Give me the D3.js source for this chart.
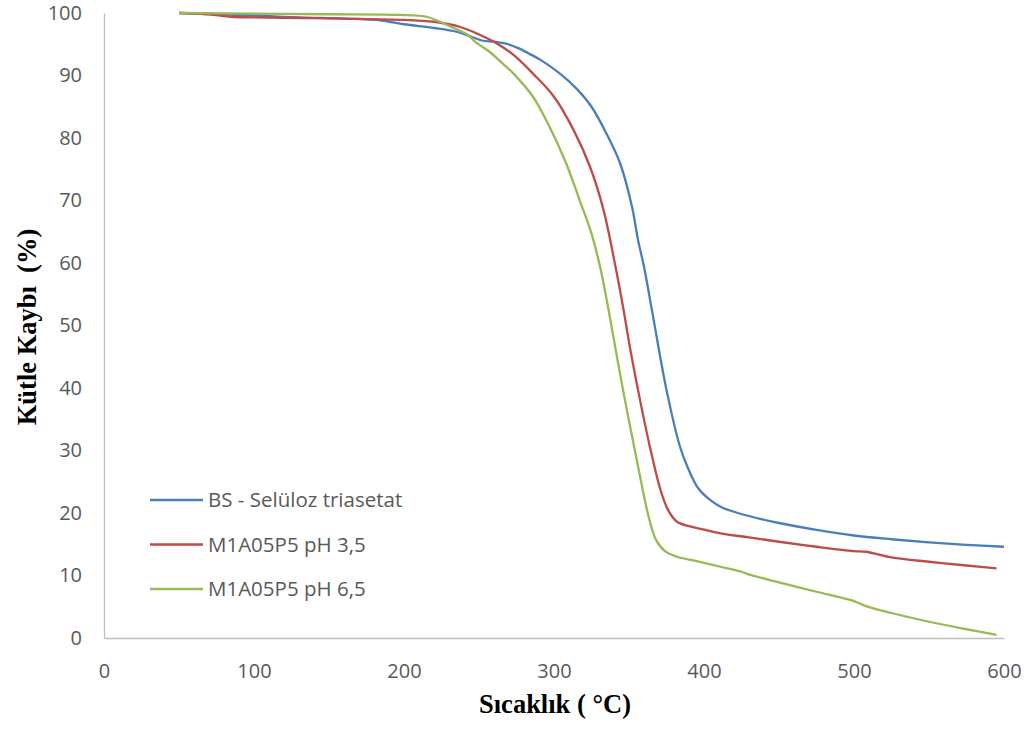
<!DOCTYPE html>
<html>
<head>
<meta charset="utf-8">
<script src="https://cdn.jsdelivr.net/npm/d3@7"></script>
<style>
  body { margin: 0; background: #fff; }
  .tick text { font-family: "Open Sans", "Noto Sans", sans-serif; font-size: 20px; fill: #595959; }
</style>
</head>
<body>
<div id="chart"></div>
<script>
// series names + colours
const seriesNames = ["BS - Selüloz triasetat", "M1A05P5 pH 3,5", "M1A05P5 pH 6,5"]
const seriesColors = ["#4a7ebb", "#be4b48", "#98b954"]

// temperature (°C) / mass (%) pairs
const bsTemp = [50, 75, 100, 130, 160, 185, 200, 220, 235, 245, 252, 260, 268, 277, 285, 291, 304, 315, 325, 335, 344, 352, 356, 360, 366, 375, 384, 390, 396, 403, 411, 420, 435, 450, 475, 500, 525, 550, 575, 600]
const bsMass = [100, 99.8, 99.6, 99.3, 99.1, 98.8, 98.2, 97.6, 97.0, 96.2, 95.6, 95.4, 95.1, 94.3, 93.3, 92.5, 90.3, 87.9, 85.0, 80.7, 76, 69, 63.7, 59.4, 51.5, 39.7, 30.6, 26.8, 24.0, 22.3, 21, 20.2, 19.2, 18.4, 17.3, 16.4, 15.8, 15.3, 14.9, 14.6]

const ph35Temp = [50, 70, 85, 100, 130, 160, 200, 220, 230, 237, 246, 255, 260, 273, 286, 300, 313, 324, 333, 341, 346, 351, 357, 364, 371, 376, 382, 390, 397, 411, 430, 450, 475, 500, 508, 525, 550, 575, 595]
const ph35Mass = [100, 99.8, 99.4, 99.3, 99.2, 99.1, 98.9, 98.6, 98.2, 97.8, 97.0, 96.0, 95.4, 93.3, 90.3, 86.6, 81.3, 75.4, 68.5, 59.4, 53, 46, 38.5, 30.5, 23.7, 20.5, 18.6, 17.9, 17.5, 16.75, 16.1, 15.4, 14.6, 13.9, 13.8, 12.9, 12.2, 11.6, 11.15]

const ph65Temp = [50, 100, 150, 197, 215, 224, 233, 242, 248, 257, 264, 273, 286, 297, 308, 317, 325, 331, 336, 346, 357, 363, 368, 374, 382, 395, 411, 425, 431, 450, 475, 500, 508, 525, 550, 575, 595]
const ph65Mass = [100, 99.9, 99.8, 99.7, 99.4, 98.6, 97.6, 96.6, 95.3, 93.8, 92.3, 90.3, 86.6, 81.8, 76, 70.1, 64.7, 59.1, 53, 39.7, 26.3, 19.5, 15.7, 13.9, 13.0, 12.3, 11.4, 10.6, 10.1, 8.9, 7.4, 5.9, 5.1, 4.0, 2.6, 1.4, 0.5]

const xTicks = [0, 100, 200, 300, 400, 500, 600]
const yTicks = [0, 10, 20, 30, 40, 50, 60, 70, 80, 90, 100]

const series = [
    bsTemp.map((t, i) => ({t: t, m: bsMass[i]})),
    ph35Temp.map((t, i) => ({t: t, m: ph35Mass[i]})),
    ph65Temp.map((t, i) => ({t: t, m: ph65Mass[i]}))
]

const svg = d3.select("#chart")
    .append("svg")
    .attr("width", 1033)
    .attr("height", 731)

const x = d3.scaleLinear().domain([0, 600]).range([104, 1004])
const y = d3.scaleLinear().domain([0, 100]).range([638, 13])

// x axis
svg.append("g")
    .attr("transform", "translate(0,638)")
    .call(d3.axisBottom(x).tickValues(xTicks).tickSize(0).tickPadding(26))
    .call(g => g.select(".domain").attr("stroke", "#bfbfbf").attr("stroke-width", 1.3))

// y axis
svg.append("g")
    .attr("transform", "translate(104,0)")
    .call(d3.axisLeft(y).tickValues(yTicks).tickSize(0).tickPadding(22))
    .call(g => g.select(".domain").attr("stroke", "#bfbfbf").attr("stroke-width", 1.3))

const line = d3.line()
    .x(d => x(d.t))
    .y(d => y(d.m))
    .curve(d3.curveCatmullRom.alpha(0.5))

svg.selectAll(".series")
    .data(series)
    .enter().append("path")
    .attr("class", "series")
    .attr("d", line)
    .attr("fill", "none")
    .attr("stroke", (d, i) => seriesColors[i])
    .attr("stroke-width", 2.3)

// legend
const legend = svg.append("g")
    .selectAll("g")
    .data(seriesNames)
    .enter().append("g")
    .attr("transform", (d, i) => `translate(150, ${500 + i * 44.5})`)

legend.append("line")
    .attr("x1", 0).attr("x2", 53)
    .attr("stroke", (d, i) => seriesColors[i])
    .attr("stroke-width", 2.3)

legend.append("text")
    .attr("x", 58)
    .attr("dy", "0.35em")
    .attr("font-family", "'Open Sans', 'Noto Sans', sans-serif")
    .attr("font-size", 20.5)
    .attr("fill", "#595959")
    .text(d => d)

// axis titles
svg.append("text")
    .attr("x", 555)
    .attr("y", 713)
    .attr("text-anchor", "middle")
    .attr("font-family", "'Liberation Serif', 'Times New Roman', serif")
    .attr("font-weight", "bold")
    .attr("font-size", 26.5)
    .attr("fill", "#000")
    .text("Sıcaklık ( °C)")

svg.append("text")
    .attr("transform", "translate(36, 327) rotate(-90)")
    .attr("text-anchor", "middle")
    .attr("font-family", "'Liberation Serif', 'Times New Roman', serif")
    .attr("font-weight", "bold")
    .attr("font-size", 26.5)
    .attr("fill", "#000")
    .attr("xml:space", "preserve")
    .text("Kütle Kaybı  (%)")
</script>
</body>
</html>
